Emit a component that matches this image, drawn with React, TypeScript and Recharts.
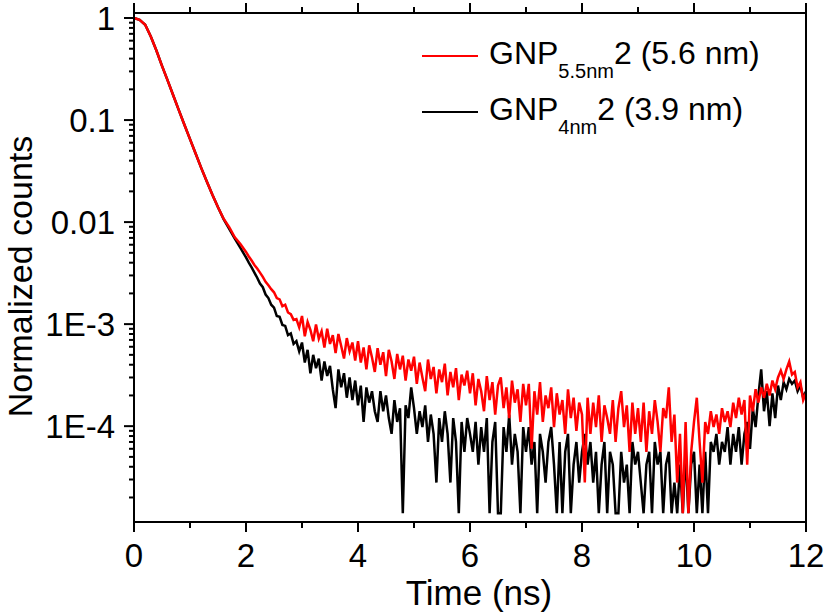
import { LineChart, Line, XAxis, YAxis, Legend } from "recharts";

const FONT = "'Liberation Sans', Arial, sans-serif";

// time axis (ns): 0.1 ns steps over the fast rise/decay, 0.05 ns steps over the noisy tail
const times = [
  0, 0.1, 0.2, 0.3, 0.4, 0.5, 0.6, 0.7, 0.8, 0.9, 1, 1.1, 1.2, 1.3, 1.4, 1.5, 1.6, 1.7, 1.8, 1.9,
  2, 2.05, 2.1, 2.15, 2.2, 2.25, 2.3, 2.35, 2.4, 2.45, 2.5, 2.55, 2.6, 2.65, 2.7, 2.75, 2.8, 2.85, 2.9, 2.95,
  3, 3.05, 3.1, 3.15, 3.2, 3.25, 3.3, 3.35, 3.4, 3.45, 3.5, 3.55, 3.6, 3.65, 3.7, 3.75, 3.8, 3.85, 3.9, 3.95,
  4, 4.05, 4.1, 4.15, 4.2, 4.25, 4.3, 4.35, 4.4, 4.45, 4.5, 4.55, 4.6, 4.65, 4.7, 4.75, 4.8, 4.85, 4.9, 4.95,
  5, 5.05, 5.1, 5.15, 5.2, 5.25, 5.3, 5.35, 5.4, 5.45, 5.5, 5.55, 5.6, 5.65, 5.7, 5.75, 5.8, 5.85, 5.9, 5.95,
  6, 6.05, 6.1, 6.15, 6.2, 6.25, 6.3, 6.35, 6.4, 6.45, 6.5, 6.55, 6.6, 6.65, 6.7, 6.75, 6.8, 6.85, 6.9, 6.95,
  7, 7.05, 7.1, 7.15, 7.2, 7.25, 7.3, 7.35, 7.4, 7.45, 7.5, 7.55, 7.6, 7.65, 7.7, 7.75, 7.8, 7.85, 7.9, 7.95,
  8, 8.05, 8.1, 8.15, 8.2, 8.25, 8.3, 8.35, 8.4, 8.45, 8.5, 8.55, 8.6, 8.65, 8.7, 8.75, 8.8, 8.85, 8.9, 8.95,
  9, 9.05, 9.1, 9.15, 9.2, 9.25, 9.3, 9.35, 9.4, 9.45, 9.5, 9.55, 9.6, 9.65, 9.7, 9.75, 9.8, 9.85, 9.9, 9.95,
  10, 10.05, 10.1, 10.15, 10.2, 10.25, 10.3, 10.35, 10.4, 10.45, 10.5, 10.55, 10.6, 10.65, 10.7, 10.75, 10.8, 10.85, 10.9, 10.95,
  11, 11.05, 11.1, 11.15, 11.2, 11.25, 11.3, 11.35, 11.4, 11.45, 11.5, 11.55, 11.6, 11.65, 11.7, 11.75, 11.8, 11.85, 11.9, 11.95, 12,
];

// GNP5.5nm2 (5.6 nm), red
const gnp55 = [
  1, 0.96, 0.86, 0.66, 0.48, 0.34, 0.245, 0.175, 0.125, 0.09, 0.065, 0.047, 0.034, 0.025, 0.0185, 0.014, 0.0108, 0.0089, 0.0071, 0.0061,
  5.1e-3, 4.6e-3, 4.2e-3, 3.8e-3, 3.5e-3, 3.2e-3, 2.9e-3, 2.6e-3, 2.4e-3, 2.2e-3, 2.05e-3, 1.8e-3, 1.75e-3, 1.5e-3, 1.55e-3, 1.3e-3, 1.25e-3, 1.1e-3, 1.12e-3, 9.3e-4,
  1.2e-3, 7.6e-4, 1.05e-3, 8.8e-4, 6.8e-4, 9.9e-4, 7.2e-4, 8.5e-4, 5.9e-4, 9.0e-4, 6.4e-4, 7.8e-4, 5.2e-4, 8.0e-4, 6.1e-4, 4.6e-4, 7.3e-4, 5.4e-4, 6.6e-4, 4.4e-4,
  6.8e-4, 4.2e-4, 5.9e-4, 3.6e-4, 6.2e-4, 4.7e-4, 3.4e-4, 5.8e-4, 4.0e-4, 5.3e-4, 3.1e-4, 5.6e-4, 4.3e-4, 2.9e-4, 5.1e-4, 3.6e-4, 4.9e-4, 2.8e-4, 4.5e-4, 3.5e-4,
  4.8e-4, 2.6e-4, 4.2e-4, 3.0e-4, 2.2e-4, 4.5e-4, 2.9e-4, 3.8e-4, 2.1e-4, 3.6e-4, 2.7e-4, 4.1e-4, 2.0e-4, 3.4e-4, 2.4e-4, 3.7e-4, 1.8e-4, 3.2e-4, 2.5e-4, 3.5e-4,
  2.1e-4, 3.3e-4, 1.6e-4, 2.9e-4, 2.2e-4, 1.4e-4, 3.1e-4, 1.8e-4, 2.7e-4, 1.3e-4, 2.5e-4, 3.0e-4, 1.5e-4, 2.4e-4, 1.2e-4, 2.8e-4, 1.7e-4, 2.3e-4, 1.1e-4, 2.6e-4,
  1.6e-4, 2.6e-4, 6.0e-5, 2.2e-4, 1.3e-4, 2.7e-4, 1.1e-4, 2.0e-4, 1.5e-4, 2.4e-4, 9.8e-5, 2.1e-4, 1.3e-4, 1.8e-4, 8.4e-5, 2.3e-4, 1.2e-4, 1.9e-4, 9.0e-5, 1.7e-4,
  1.3e-4, 2.8e-5, 1.9e-4, 8.4e-5, 1.7e-4, 9.8e-5, 2.0e-4, 7.0e-5, 1.6e-4, 1.2e-4, 8.4e-5, 1.8e-4, 7.0e-5, 1.5e-4, 2.2e-4, 9.8e-5, 1.6e-4, 5.6e-5, 1.7e-4, 8.4e-5,
  1.5e-4, 7.0e-5, 1.7e-4, 5.6e-5, 1.4e-4, 8.4e-5, 1.8e-4, 1.1e-4, 5.6e-5, 1.5e-4, 1.2e-4, 2.4e-4, 7.0e-5, 1.3e-4, 2.8e-5, 8.4e-5, 1.4e-5, 1.1e-4, 1.4e-5, 5.6e-5,
  1.1e-4, 1.9e-4, 7.0e-5, 2.8e-5, 1.1e-4, 8.4e-5, 1.4e-4, 9.8e-5, 1.3e-4, 8.4e-5, 1.5e-4, 1.1e-4, 1.4e-4, 9.8e-5, 1.7e-4, 1.2e-4, 1.9e-4, 1.3e-4, 1.8e-4, 4.2e-5,
  2.0e-4, 1.4e-4, 2.3e-4, 1.7e-4, 2.4e-4, 1.9e-4, 2.6e-4, 2.0e-4, 2.8e-4, 2.3e-4, 3.0e-4, 3.5e-4, 2.9e-4, 3.6e-4, 4.3e-4, 3.2e-4, 3.4e-4, 2.4e-4, 2.7e-4, 1.8e-4, 2.1e-4,
];

// GNP4nm2 (3.9 nm), black
const gnp4 = [
  1, 0.96, 0.86, 0.66, 0.48, 0.34, 0.245, 0.175, 0.125, 0.09, 0.065, 0.047, 0.034, 0.025, 0.0185, 0.014, 0.0107, 0.0086, 0.0069, 0.0056,
  4.5e-3, 4.0e-3, 3.6e-3, 3.2e-3, 2.85e-3, 2.5e-3, 2.3e-3, 1.95e-3, 1.8e-3, 1.55e-3, 1.45e-3, 1.2e-3, 1.18e-3, 9.8e-4, 9.6e-4, 7.8e-4, 8.1e-4, 6.4e-4, 6.8e-4, 5.4e-4,
  6.6e-4, 4.2e-4, 5.6e-4, 3.3e-4, 5.0e-4, 3.7e-4, 4.6e-4, 2.8e-4, 4.3e-4, 3.1e-4, 3.9e-4, 2.3e-4, 1.5e-4, 3.6e-4, 2.4e-4, 3.3e-4, 1.9e-4, 3.0e-4, 1.8e-4, 2.8e-4,
  1.6e-4, 2.5e-4, 1.1e-4, 2.4e-4, 1.7e-4, 2.2e-4, 1.4e-4, 1.1e-4, 2.2e-4, 1.4e-4, 2.0e-4, 1.2e-4, 8.4e-5, 1.8e-4, 1.1e-4, 1.5e-4, 1.4e-5, 1.6e-4, 1.2e-4, 2.4e-4,
  1.5e-4, 8.4e-5, 1.4e-4, 9.8e-5, 1.6e-4, 7.0e-5, 1.3e-4, 8.4e-5, 2.8e-5, 1.2e-4, 7.0e-5, 1.4e-4, 8.4e-5, 2.8e-5, 1.2e-4, 7.0e-5, 1.4e-5, 1.1e-4, 5.6e-5, 1.2e-4,
  8.4e-5, 5.6e-5, 1.1e-4, 4.2e-5, 9.8e-5, 5.6e-5, 1.2e-4, 1.4e-5, 7.0e-5, 1.1e-4, 1.4e-5, 1.4e-5, 9.8e-5, 5.6e-5, 1.3e-4, 4.2e-5, 8.4e-5, 5.6e-5, 1.4e-5, 9.8e-5,
  5.6e-5, 9.8e-5, 4.2e-5, 7.0e-5, 1.4e-5, 8.4e-5, 5.6e-5, 2.8e-5, 7.0e-5, 9.8e-5, 4.2e-5, 1.4e-5, 7.0e-5, 1.4e-5, 5.6e-5, 8.4e-5, 1.4e-5, 4.2e-5, 7.0e-5, 2.8e-5,
  5.6e-5, 8.4e-5, 4.2e-5, 7.0e-5, 2.8e-5, 5.6e-5, 1.4e-5, 4.2e-5, 7.0e-5, 1.4e-5, 5.6e-5, 4.2e-5, 1.4e-5, 1.4e-5, 5.6e-5, 2.8e-5, 4.2e-5, 1.4e-5, 7.0e-5, 4.2e-5,
  5.6e-5, 2.8e-5, 1.4e-5, 4.2e-5, 5.6e-5, 1.4e-5, 7.0e-5, 4.2e-5, 5.6e-5, 1.4e-5, 4.2e-5, 5.6e-5, 1.4e-5, 2.8e-5, 1.4e-5, 4.2e-5, 1.4e-5, 5.6e-5, 1.4e-5, 4.2e-5,
  5.6e-5, 1.4e-5, 4.2e-5, 1.4e-5, 5.6e-5, 1.4e-5, 7.0e-5, 5.6e-5, 8.4e-5, 4.2e-5, 7.0e-5, 5.6e-5, 9.8e-5, 4.2e-5, 8.4e-5, 5.6e-5, 9.8e-5, 4.2e-5, 8.4e-5, 1.1e-4,
  6.0e-5, 1.5e-4, 9.8e-5, 2.0e-4, 3.6e-4, 1.4e-4, 2.2e-4, 1.0e-4, 2.1e-4, 1.2e-4, 2.5e-4, 1.8e-4, 2.7e-4, 2.3e-4, 2.9e-4, 2.6e-4, 2.8e-4, 2.2e-4, 2.5e-4, 1.9e-4, 2.2e-4,
];

const yMajorTicks = [1, 0.1, 0.01, 0.001, 0.0001];
const yTickLabels = ["1", "0.1", "0.01", "1E-3", "1E-4"];
const yMinorMantissas = [2, 3, 4, 5, 6, 7, 8, 9];
const yDecades = [1e-5, 1e-4, 1e-3, 1e-2, 1e-1];
const xTicks = [0, 1, 2, 3, 4, 5, 6, 7, 8, 9, 10, 11, 12];
const xLabelTicks = [0, 2, 4, 6, 8, 10, 12];

const Y_DOMAIN: [number, number] = [1.15e-5, 1.12];

const series = [
  { key: "gnp55", base: "GNP", sub: "5.5nm", rest: "2 (5.6 nm)", color: "#ff0000" },
  { key: "gnp4", base: "GNP", sub: "4nm", rest: "2 (3.9 nm)", color: "#000000" },
];

const rows = times.map((t, i) => ({ t, gnp55: gnp55[i], gnp4: gnp4[i] }));

const yMinorTicks = yDecades
  .flatMap((d) => yMinorMantissas.map((m) => m * d))
  .filter((v) => v > Y_DOMAIN[0] && v < Y_DOMAIN[1]);
const yAllTicks = [...yMajorTicks, ...yMinorTicks];

function YTick({ x, y, payload }: any) {
  const i = yMajorTicks.indexOf(payload.value);
  const major = i >= 0;
  return (
    <g>
      <line x1={x - (major ? 10 : 5)} x2={x} y1={y} y2={y} stroke="#000" strokeWidth={2} />
      {major && (
        <text x={x - 19} y={y + 12} textAnchor="end" fontSize={33} fontFamily={FONT} fill="#000">
          {yTickLabels[i]}
        </text>
      )}
    </g>
  );
}

function XTick({ x, y, payload }: any) {
  const major = xLabelTicks.includes(payload.value);
  return (
    <g>
      <line x1={x} x2={x} y1={y} y2={y + (major ? 10 : 6)} stroke="#000" strokeWidth={2} />
      {major && (
        <text x={x} y={y + 45} textAnchor="middle" fontSize={33} fontFamily={FONT} fill="#000">
          {payload.value}
        </text>
      )}
    </g>
  );
}

function TopTick({ x, y, payload }: any) {
  const major = xLabelTicks.includes(payload.value);
  return <line x1={x} x2={x} y1={y} y2={y - (major ? 10 : 6)} stroke="#000" strokeWidth={2} />;
}

function XTitle({ viewBox }: any) {
  return (
    <text x={viewBox.x + viewBox.width / 2 + 9} y={viewBox.y + 83} textAnchor="middle" fontSize={35} fontFamily={FONT} fill="#000">
      Time (ns)
    </text>
  );
}

function YTitle({ viewBox }: any) {
  const cx = viewBox.x + 32;
  const cy = viewBox.y + viewBox.height / 2 + 9;
  return (
    <text x={cx} y={cy} transform={`rotate(-90, ${cx}, ${cy})`} textAnchor="middle" fontSize={34} fontFamily={FONT} fill="#000">
      Normalized counts
    </text>
  );
}

function LegendBox() {
  return (
    <svg width={827} height={140} style={{ display: "block" }}>
      {series.map((s, i) => {
        const ly = 56 + i * 56;
        return (
          <g key={s.key}>
            <line x1={422} x2={478} y1={ly} y2={ly} stroke={s.color} strokeWidth={2} />
            <text x={489} y={ly + 8} fontSize={32} fontFamily={FONT} fill="#000">
              {s.base}
              <tspan fontSize={20} dy={14}>{s.sub}</tspan>
              <tspan fontSize={32} dy={-14}>{s.rest}</tspan>
            </text>
          </g>
        );
      })}
    </svg>
  );
}

export default function App() {
  const axisLine = { stroke: "#000", strokeWidth: 2 };
  return (
    <div style={{ position: "absolute", left: 0, top: 0, background: "#fff" }}>
      <LineChart width={827} height={616} data={rows} margin={{ top: 12, right: 20, bottom: 0, left: 0 }}>
        <XAxis
          dataKey="t"
          type="number"
          domain={[0, 12]}
          ticks={xTicks}
          interval={0}
          height={94}
          tickSize={0}
          tickMargin={0}
          tickLine={false}
          axisLine={axisLine}
          tick={<XTick />}
          label={{ value: "Time (ns)", content: <XTitle /> }}
        />
        <XAxis
          xAxisId="top"
          orientation="top"
          dataKey="t"
          type="number"
          domain={[0, 12]}
          ticks={xTicks}
          interval={0}
          height={1}
          tickSize={0}
          tickMargin={0}
          tickLine={false}
          axisLine={axisLine}
          tick={<TopTick />}
        />
        <YAxis
          scale="log"
          type="number"
          domain={Y_DOMAIN}
          allowDataOverflow
          ticks={yAllTicks}
          interval={0}
          width={134}
          tickSize={0}
          tickMargin={0}
          tickLine={false}
          axisLine={axisLine}
          tick={<YTick />}
          label={{ value: "Normalized counts", content: <YTitle /> }}
        />
        <YAxis
          yAxisId="right"
          orientation="right"
          type="number"
          domain={[0, 1]}
          ticks={[0, 1]}
          width={1}
          tick={false}
          tickLine={false}
          axisLine={axisLine}
        />
        <Legend
          layout="vertical"
          align="center"
          verticalAlign="middle"
          wrapperStyle={{ position: "absolute", left: 0, top: 0, width: 827, height: 140 }}
          content={<LegendBox />}
        />
        {[...series].reverse().map((s) => (
          <Line
            key={s.key}
            dataKey={s.key}
            type="linear"
            stroke={s.color}
            strokeWidth={2.5}
            dot={false}
            activeDot={false}
            isAnimationActive={false}
          />
        ))}
      </LineChart>
    </div>
  );
}
